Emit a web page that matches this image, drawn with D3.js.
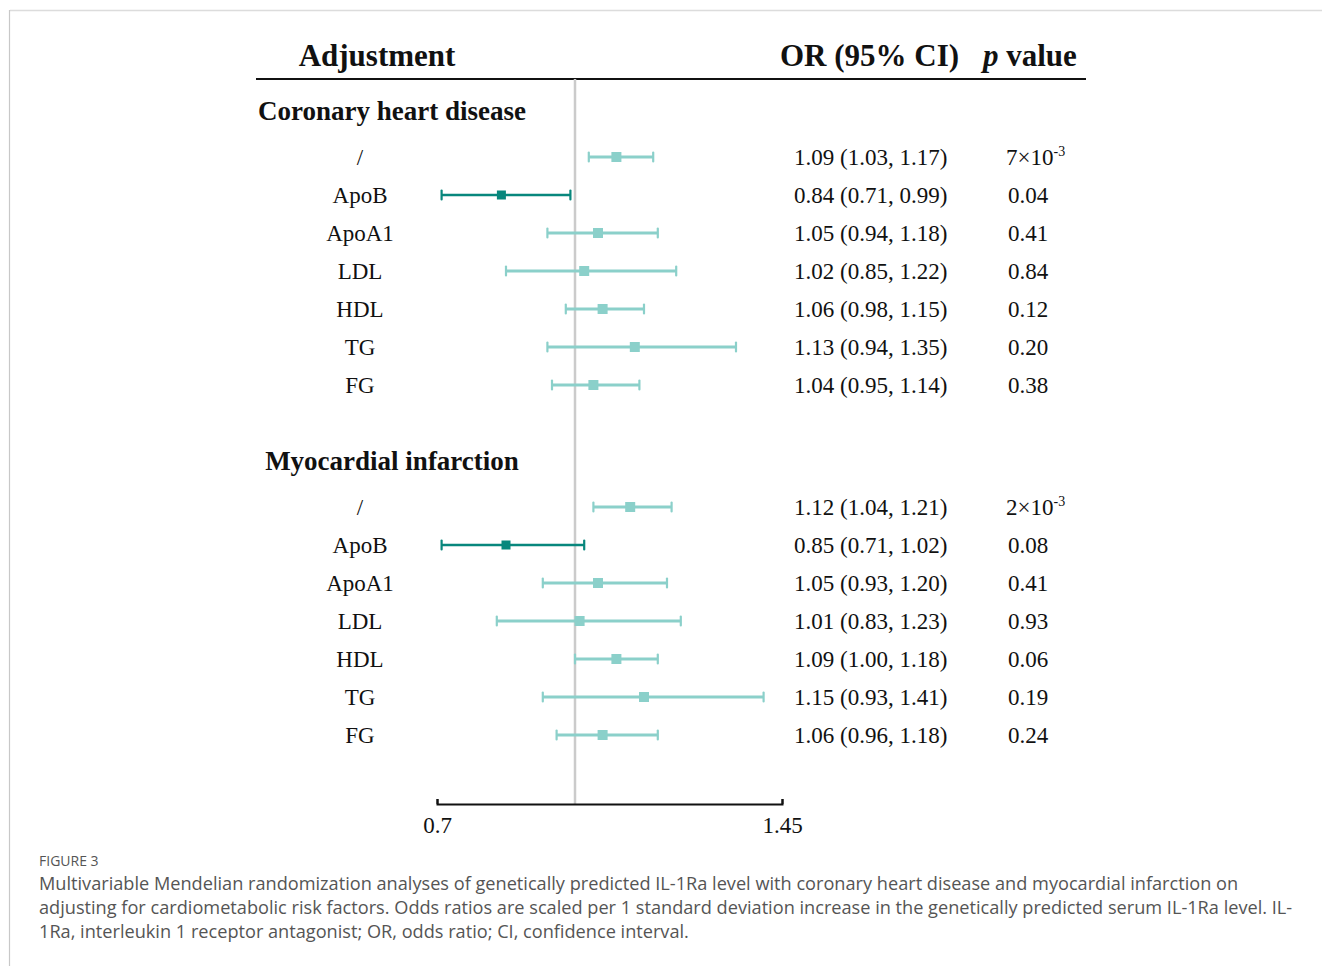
<!DOCTYPE html>
<html>
<head>
<meta charset="utf-8">
<script src="https://cdn.jsdelivr.net/npm/d3@7"></script>
<style>
  body { margin: 0; background: #fff; }
  svg text { font-family: "Liberation Serif", "Times New Roman", serif; fill: #111; }
  .cap { font-family: "Open Sans", Lato, sans-serif !important; fill: #555 !important; }
</style>
</head>
<body>
<div id="chart"></div>
<script>
// data
const adjustments = ["/", "ApoB", "ApoA1", "LDL", "HDL", "TG", "FG"];
const highlight = [false, true, false, false, false, false, false];

const chdOR   = [1.09, 0.84, 1.05, 1.02, 1.06, 1.13, 1.04];
const chdLow  = [1.03, 0.71, 0.94, 0.85, 0.98, 0.94, 0.95];
const chdHigh = [1.17, 0.99, 1.18, 1.22, 1.15, 1.35, 1.14];
const chdP    = ["7×10-3", "0.04", "0.41", "0.84", "0.12", "0.20", "0.38"];

const miOR    = [1.12, 0.85, 1.05, 1.01, 1.09, 1.15, 1.06];
const miLow   = [1.04, 0.71, 0.93, 0.83, 1.00, 0.93, 0.96];
const miHigh  = [1.21, 1.02, 1.20, 1.23, 1.18, 1.41, 1.18];
const miP     = ["2×10-3", "0.08", "0.41", "0.93", "0.06", "0.19", "0.24"];

const groups = ["Coronary heart disease", "Myocardial infarction"];
const axisTicks = [0.7, 1.45];
const refValue = 1;

const captionTitle = "FIGURE 3";
const captionLines = [
  "Multivariable Mendelian randomization analyses of genetically predicted IL-1Ra level with coronary heart disease and myocardial infarction on",
  "adjusting for cardiometabolic risk factors. Odds ratios are scaled per 1 standard deviation increase in the genetically predicted serum IL-1Ra level. IL-",
  "1Ra, interleukin 1 receptor antagonist; OR, odds ratio; CI, confidence interval."
];

const W = 1322, H = 966;
const light = "#8bd0ca", dark = "#08877d";

const svg = d3.select("#chart").append("svg")
    .attr("width", W)
    .attr("height", H);

// panel frame
svg.append("line").attr("x1", 10).attr("x2", W).attr("y1", 10.5).attr("y2", 10.5)
    .attr("stroke", "#dcdcdc").attr("stroke-width", 1.5);
svg.append("line").attr("x1", 9.5).attr("x2", 9.5).attr("y1", 10).attr("y2", H)
    .attr("stroke", "#c8c8c8").attr("stroke-width", 1.2);

const x = d3.scaleLinear().domain(axisTicks).range([437, 782]);
const yRow = d3.scaleLinear().domain([0, adjustments.length - 1]).range([157, 385]);
const groupOffset = [0, 350];

const rows = [];
groups.forEach((g, gi) => {
    const or = gi === 0 ? chdOR : miOR;
    const lo = gi === 0 ? chdLow : miLow;
    const hi = gi === 0 ? chdHigh : miHigh;
    const p  = gi === 0 ? chdP : miP;
    adjustments.forEach((a, i) => {
        rows.push({group: gi, label: a, or: or[i], lo: lo[i], hi: hi[i], p: p[i],
                   hl: highlight[i], y: yRow(i) + groupOffset[gi]});
    });
});

// header
svg.append("text").attr("x", 377).attr("y", 66).attr("text-anchor", "middle")
    .style("font-size", "31px").style("font-weight", "bold").text("Adjustment");
svg.append("text").attr("x", 780).attr("y", 66)
    .style("font-size", "31px").style("font-weight", "bold").text("OR (95% CI)");
const pv = svg.append("text").attr("x", 983).attr("y", 66)
    .style("font-size", "31px").style("font-weight", "bold");
pv.append("tspan").style("font-style", "italic").text("p");
pv.append("tspan").text(" value");

svg.append("line").attr("x1", 256).attr("x2", 1086).attr("y1", 79).attr("y2", 79)
    .attr("stroke", "#111").attr("stroke-width", 2);

// reference line at OR = 1
svg.append("line").attr("x1", x(refValue)).attr("x2", x(refValue))
    .attr("y1", 79).attr("y2", 804)
    .attr("stroke", "#cbcbcb").attr("stroke-width", 2.5);

// group titles
groups.forEach((g, gi) => {
    svg.append("text").attr("x", 392).attr("y", 120 + groupOffset[gi])
        .attr("text-anchor", "middle")
        .style("font-size", "27px").style("font-weight", "bold").text(g);
});

// row labels
svg.selectAll(".lab").data(rows).enter().append("text")
    .attr("class", "lab")
    .attr("x", 360).attr("y", d => d.y + 8)
    .attr("text-anchor", "middle")
    .style("font-size", "23px")
    .text(d => d.label);

// whiskers
const ci = svg.selectAll(".ci").data(rows).enter().append("g").attr("class", "ci");
ci.append("line")
    .attr("x1", d => x(d.lo)).attr("x2", d => x(d.hi))
    .attr("y1", d => d.y).attr("y2", d => d.y)
    .attr("stroke", d => d.hl ? dark : light)
    .attr("stroke-width", d => d.hl ? 2.5 : 3);
ci.selectAll(".cap-end").data(d => [d.lo, d.hi].map(v => ({v, d}))).enter().append("line")
    .attr("x1", e => x(e.v)).attr("x2", e => x(e.v))
    .attr("y1", e => e.d.y - 4.5).attr("y2", e => e.d.y + 4.5)
    .attr("stroke", e => e.d.hl ? dark : light)
    .attr("stroke-width", 2.2).attr("stroke-linecap", "round");
ci.append("rect")
    .attr("x", d => x(d.or) - (d.hl ? 4.5 : 5))
    .attr("y", d => d.y - (d.hl ? 4.5 : 5))
    .attr("width", d => d.hl ? 9 : 10)
    .attr("height", d => d.hl ? 9 : 10)
    .attr("fill", d => d.hl ? dark : light);

// OR text
const f2 = d3.format(".2f");
svg.selectAll(".ort").data(rows).enter().append("text")
    .attr("class", "ort")
    .attr("x", 794).attr("y", d => d.y + 8)
    .style("font-size", "23px")
    .text(d => `${f2(d.or)} (${f2(d.lo)}, ${f2(d.hi)})`);

// p values, with superscript exponents
svg.selectAll(".pt").data(rows).enter().append("text")
    .attr("class", "pt")
    .attr("x", d => d.p.includes("×") ? 1006 : 1008)
    .attr("y", d => d.y + 8)
    .style("font-size", "23px")
    .each(function(d) {
        const t = d3.select(this);
        if (d.p.includes("×")) {
            const [base, exp] = d.p.split("10");
            t.append("tspan").text(base + "10");
            t.append("tspan").attr("dy", -9).style("font-size", "14px").text(exp);
        } else {
            t.text(d.p);
        }
    });

// axis
const axis = svg.append("g")
    .attr("transform", "translate(0,804)")
    .call(d3.axisBottom(x).tickValues(axisTicks).tickFormat(d => d)
        .tickSize(-5).tickSizeOuter(-5).tickPadding(13));
axis.select(".domain").attr("stroke", "#111").attr("stroke-width", 2);
axis.selectAll(".tick line").attr("stroke", "#111").attr("stroke-width", 2);
axis.selectAll(".tick text")
    .style("font-family", "'Liberation Serif', 'Times New Roman', serif")
    .style("font-size", "23px").attr("fill", "#111");

// caption
svg.append("text").attr("class", "cap").attr("x", 39).attr("y", 866)
    .style("font-size", "14px").text(captionTitle);
const capl = svg.selectAll(".capl").data(captionLines).enter().append("text")
    .attr("class", "cap capl")
    .attr("x", 39).attr("y", (d, i) => 890 + i * 24)
    .style("font-size", "17px")
    .text(d => d);
// fit the first caption line to the width it has in the figure (39 -> 1239)
const w0 = capl.node().getComputedTextLength();
capl.style("font-size", (17 * 1200 / w0).toFixed(2) + "px");
</script>
</body>
</html>
